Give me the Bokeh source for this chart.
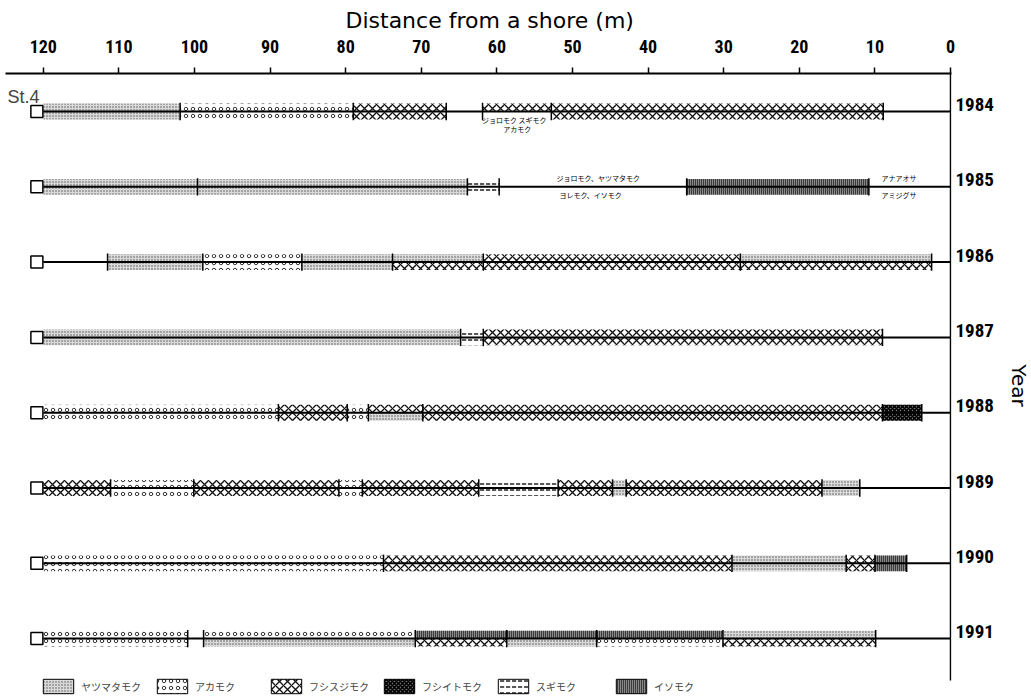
from bokeh.plotting import figure
from bokeh.models import Range1d, FixedTicker, Legend, LegendItem, Label, ColumnDataSource, Title, NumeralTickFormatter
from bokeh.core.properties import value
from bokeh.embed import file_html
from bokeh.resources import INLINE

# ---------------- data ----------------
YEARS = [1984, 1985, 1986, 1987, 1988, 1989, 1990, 1991]
X_TICKS = [0, 10, 20, 30, 40, 50, 60, 70, 80, 90, 100, 110, 120]
TRANSECT_START = 120
SPECIES = ["ヤツマタモク", "アカモク", "フシスジモク", "フシイトモク", "スギモク", "イソモク"]

# each segment: year, from (m), to (m), species, band ("full", "upper", "lower")
SEG_YEAR = [1984, 1984, 1984, 1984, 1984,
            1985, 1985, 1985, 1985,
            1986, 1986, 1986, 1986, 1986, 1986, 1986, 1986,
            1987, 1987, 1987,
            1988, 1988, 1988, 1988, 1988, 1988, 1988,
            1989, 1989, 1989, 1989, 1989, 1989, 1989, 1989, 1989, 1989,
            1990, 1990, 1990, 1990, 1990,
            1991, 1991, 1991, 1991, 1991, 1991, 1991, 1991, 1991]
SEG_FROM = [120, 101.9, 79.0, 61.9, 52.8,
            120, 99.6, 63.9, 34.9,
            111.5, 98.9, 85.8, 73.8, 73.8, 61.8, 27.8, 27.8,
            120, 64.8, 61.8,
            120, 88.9, 79.8, 77.0, 77.0, 69.8, 9.0,
            120, 111.1, 100.1, 80.9, 77.8, 62.4, 51.9, 44.7, 42.9, 17.0,
            120, 75.0, 28.9, 13.8, 10.0,
            120, 98.8, 98.8, 70.8, 70.8, 58.7, 46.8, 30.1, 30.1]
SEG_TO = [101.9, 79.0, 66.7, 52.8, 8.9,
          99.6, 63.9, 59.7, 10.8,
          98.9, 85.8, 73.8, 61.8, 61.8, 27.8, 2.5, 2.5,
          64.8, 61.8, 9.0,
          88.9, 79.8, 77.0, 69.8, 69.8, 9.0, 3.8,
          111.1, 100.1, 80.9, 77.8, 62.4, 51.9, 44.7, 42.9, 17.0, 12.0,
          75.0, 28.9, 13.8, 10.0, 5.8,
          100.9, 70.8, 70.8, 30.1, 58.7, 46.8, 30.1, 9.9, 9.9]
SEG_SPECIES = ["ヤツマタモク", "アカモク", "フシスジモク", "フシスジモク", "フシスジモク",
               "ヤツマタモク", "ヤツマタモク", "スギモク", "イソモク",
               "ヤツマタモク", "アカモク", "ヤツマタモク", "ヤツマタモク", "フシスジモク", "フシスジモク", "ヤツマタモク", "フシスジモク",
               "ヤツマタモク", "スギモク", "フシスジモク",
               "アカモク", "フシスジモク", "アカモク", "フシスジモク", "ヤツマタモク", "フシスジモク", "フシイトモク",
               "フシスジモク", "アカモク", "フシスジモク", "アカモク", "フシスジモク", "スギモク", "フシスジモク", "ヤツマタモク", "フシスジモク", "ヤツマタモク",
               "アカモク", "フシスジモク", "ヤツマタモク", "フシスジモク", "イソモク",
               "アカモク", "アカモク", "ヤツマタモク", "イソモク", "フシスジモク", "ヤツマタモク", "アカモク", "ヤツマタモク", "フシスジモク"]
SEG_BAND = ["full", "full", "full", "upper", "full",
            "full", "full", "full", "full",
            "full", "full", "full", "upper", "lower", "full", "upper", "lower",
            "full", "full", "full",
            "full", "full", "full", "upper", "lower", "full", "full",
            "full", "full", "full", "full", "full", "full", "full", "full", "full", "full",
            "full", "full", "full", "full", "full",
            "full", "upper", "lower", "upper", "lower", "lower", "lower", "upper", "lower"]

# small species notes written beside the transect line
NOTE_YEAR = [1984, 1984, 1985, 1985, 1985, 1985]
NOTE_X = [57.7, 57.3, 46.6, 47.6, 6.8, 6.8]
NOTE_TEXT = ["ジョロモク スギモク", "アカモク", "ジョロモク、ヤツマタモク", "ヨレモク、イソモク", "アナアオサ", "アミジグサ"]
NOTE_ROW = [1, 2, -1, 1, -1, 1]   # -1 above the line, 1 just below, 2 second line below

# ---------------- styles ----------------
STYLE = {
    "ヤツマタモク": dict(fill_color="#d9d9d9", hatch_pattern="dot", hatch_scale=3, hatch_weight=1, hatch_color="#555555"),
    "アカモク": dict(fill_color="white", hatch_pattern="ring", hatch_scale=7, hatch_weight=0.9, hatch_color="#222222"),
    "フシスジモク": dict(fill_color="white", hatch_pattern="diagonal_cross", hatch_scale=8, hatch_weight=1.3, hatch_color="#111111"),
    "フシイトモク": dict(fill_color="#777777", hatch_pattern="diagonal_cross", hatch_scale=4, hatch_weight=1.6, hatch_color="#000000"),
    "スギモク": dict(fill_color="white", hatch_pattern="horizontal_dash", hatch_scale=6, hatch_weight=1.4, hatch_color="#111111"),
    "イソモク": dict(fill_color="#888888", hatch_pattern="vertical_line", hatch_scale=2, hatch_weight=1.3, hatch_color="#111111"),
}
CJK = "Noto Sans CJK JP"
NARROW = "Liberation Sans Narrow, Noto Sans Condensed, Roboto Condensed, DejaVu Sans Condensed, Liberation Sans, sans-serif"
HALF = 0.105      # half bar height in year units
X_LEFT, X_RIGHT = 125.0, -0.13
Y_TOP, Y_BOTTOM = 1983.495, 1991.782
AXIS_END = 1991.556
NAN = float("nan")

p = figure(frame_width=946, frame_height=624, output_backend="svg", toolbar_location=None,
           x_range=Range1d(X_LEFT, X_RIGHT), y_range=Range1d(Y_BOTTOM, Y_TOP),
           x_axis_location="above", y_axis_location="right",
           min_border_left=5, min_border_bottom=0, min_border_top=73, min_border_right=0)
p.grid.visible = False
p.outline_line_color = None
p.background_fill_color = "white"
p.border_fill_color = "white"

p.title = Title(text="Distance from a shore  (m)", align="left", offset=340,
                text_font="DejaVu Sans", text_font_style="normal", text_font_size="22px",
                text_color="black", standoff=8)

xa = p.xaxis[0]
xa.ticker = FixedTicker(ticks=X_TICKS)
xa.minor_tick_line_color = None
xa.major_tick_in = 0
xa.major_tick_out = 6
xa.major_tick_line_width = 1.5
xa.axis_line_width = 2
xa.major_label_text_font = NARROW
xa.major_label_text_font_style = "bold"
xa.major_label_text_font_size = "18px"
xa.major_label_text_color = "black"
xa.major_label_standoff = 15

ya = p.yaxis[0]
ya.ticker = FixedTicker(ticks=[y - 0.093 for y in YEARS])
ya.formatter = NumeralTickFormatter(format="0")
ya.minor_tick_line_color = None
ya.major_tick_in = 0
ya.major_tick_out = 0
ya.axis_line_color = None
ya.major_label_text_font = NARROW
ya.major_label_text_font_style = "bold"
ya.major_label_text_font_size = "19px"
ya.major_label_text_color = "black"
ya.major_label_standoff = 4
ya.axis_label = "Year"
ya.axis_label_text_font = "DejaVu Sans"
ya.axis_label_text_font_style = "normal"
ya.axis_label_text_font_size = "20px"
ya.axis_label_text_color = "black"
ya.axis_label_standoff = 10

# shore-side vertical axis line (stops above the legend, as in the original)
p.segment(x0=[0], x1=[0], y0=[Y_TOP], y1=[AXIS_END], line_color="black", line_width=1.5)

# bars
for sp in SPECIES:
    left, right, top, bottom = [], [], [], []
    for yr, a, b, s, band in zip(SEG_YEAR, SEG_FROM, SEG_TO, SEG_SPECIES, SEG_BAND):
        if s != sp:
            continue
        left.append(a)
        right.append(b)
        if band == "full":
            top.append(yr - HALF); bottom.append(yr + HALF)
        elif band == "upper":
            top.append(yr - HALF); bottom.append(yr)
        else:
            top.append(yr); bottom.append(yr + HALF)
    src = ColumnDataSource(dict(left=left, right=right, top=top, bottom=bottom))
    p.quad(left="left", right="right", top="top", bottom="bottom", source=src,
           line_color=None, **STYLE[sp])

# boundary ticks
tx, ty0, ty1 = [], [], []
for yr in YEARS:
    bounds = set()
    for y2, a, b in zip(SEG_YEAR, SEG_FROM, SEG_TO):
        if y2 == yr:
            bounds.add(a); bounds.add(b)
    bounds.discard(TRANSECT_START)
    for bx in sorted(bounds):
        tx.append(bx); ty0.append(yr - HALF - 0.01); ty1.append(yr + HALF + 0.01)
p.segment(x0=tx, x1=tx, y0=ty0, y1=ty1, line_color="black", line_width=1.5)

# transect lines and start markers
p.segment(x0=[TRANSECT_START] * len(YEARS), x1=[0] * len(YEARS), y0=YEARS, y1=YEARS,
          line_color="black", line_width=2)
p.scatter(x=[TRANSECT_START + 0.85] * len(YEARS), y=YEARS, marker="square", size=12,
          fill_color="white", line_color="black", line_width=1.5)

# notes
note_y = [yr + r * 0.115 for yr, r in zip(NOTE_YEAR, NOTE_ROW)]
p.text(x=NOTE_X, y=note_y, text=NOTE_TEXT, text_font=value(CJK), text_font_size="7px",
       text_align="center", text_baseline="middle", text_color="black")

p.add_layout(Label(x=X_LEFT, y=1983.81, x_offset=2, text="St.4", text_font="Liberation Sans",
                   text_font_size="18px", text_align="left", text_baseline="alphabetic"))

# legend: one legend per entry so their spacing matches the original
LEG_X = [34, 148, 262, 375, 489, 607]
for sp, lx in zip(SPECIES, LEG_X):
    r = p.quad(left=[NAN], right=[NAN], top=[NAN], bottom=[NAN],
               line_color="black", line_width=1, **STYLE[sp])
    lg = Legend(items=[LegendItem(label=sp, renderers=[r])], location=(lx, 2),
                orientation="horizontal", padding=0, margin=0, spacing=0,
                glyph_width=38, glyph_height=18, label_standoff=4,
                label_text_font=CJK, label_text_font_size="10px",
                border_line_color=None, background_fill_alpha=0)
    p.add_layout(lg)

open("out.html", "w").write(file_html(p, INLINE))
